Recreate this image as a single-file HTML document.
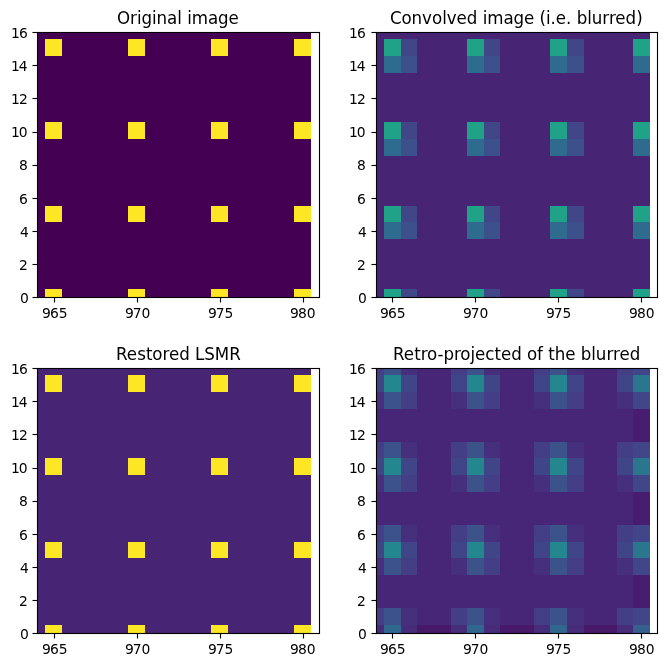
<!DOCTYPE html>
<html><head><meta charset="utf-8"><title>figure</title>
<style>
html,body{margin:0;padding:0;background:#fff}
body{width:667px;height:667px;overflow:hidden}
svg{display:block}
text{font-family:"DejaVu Sans","Liberation Sans",sans-serif;fill:#000}
.t{font-size:13.89px;letter-spacing:0px}
.h{font-size:16.67px}
</style></head><body>
<svg width="667" height="667" viewBox="0 0 667 667">
<rect width="667" height="667" fill="#fff"/>
<g shape-rendering="crispEdges">
<rect x="37" y="32" width="274" height="266" fill="#440154"/>
<rect x="45" y="289" width="17" height="8" fill="#fde725"/>
<rect x="45" y="206" width="17" height="16" fill="#fde725"/>
<rect x="45" y="122" width="17" height="17" fill="#fde725"/>
<rect x="45" y="39" width="17" height="17" fill="#fde725"/>
<rect x="128" y="289" width="17" height="8" fill="#fde725"/>
<rect x="128" y="206" width="17" height="16" fill="#fde725"/>
<rect x="128" y="122" width="17" height="17" fill="#fde725"/>
<rect x="128" y="39" width="17" height="17" fill="#fde725"/>
<rect x="211" y="289" width="17" height="8" fill="#fde725"/>
<rect x="211" y="206" width="17" height="16" fill="#fde725"/>
<rect x="211" y="122" width="17" height="17" fill="#fde725"/>
<rect x="211" y="39" width="17" height="17" fill="#fde725"/>
<rect x="294" y="289" width="17" height="8" fill="#fde725"/>
<rect x="294" y="206" width="17" height="16" fill="#fde725"/>
<rect x="294" y="122" width="17" height="17" fill="#fde725"/>
<rect x="294" y="39" width="17" height="17" fill="#fde725"/>
</g>
<g fill="#000">
<rect x="36.945" y="31.945" width="283.11" height="1.11"/><rect x="36.945" y="296.945" width="283.11" height="1.11"/><rect x="36.945" y="31.945" width="1.11" height="266.11"/><rect x="318.945" y="31.945" width="1.11" height="266.11"/>
<rect x="53.945" y="298" width="1.11" height="4.5"/><rect x="136.945" y="298" width="1.11" height="4.5"/><rect x="219.945" y="298" width="1.11" height="4.5"/><rect x="302.945" y="298" width="1.11" height="4.5"/>
<rect x="32.5" y="31.945" width="4.5" height="1.11"/><rect x="32.5" y="64.945" width="4.5" height="1.11"/><rect x="32.5" y="97.945" width="4.5" height="1.11"/><rect x="32.5" y="131.945" width="4.5" height="1.11"/><rect x="32.5" y="164.945" width="4.5" height="1.11"/><rect x="32.5" y="197.945" width="4.5" height="1.11"/><rect x="32.5" y="230.945" width="4.5" height="1.11"/><rect x="32.5" y="263.945" width="4.5" height="1.11"/><rect x="32.5" y="296.945" width="4.5" height="1.11"/>
</g>
<text class="t" x="42.050 50.100 58.650" y="317.85">965</text><text class="t" x="124.950 132.750 141.550" y="317.85">970</text><text class="t" x="207.900 215.700 224.500" y="317.85">975</text><text class="t" x="289.950 298.000 306.800" y="317.85">980</text>
<text class="t" x="10.900 18.950" y="37.85">16</text><text class="t" x="10.900 18.700" y="70.85">14</text><text class="t" x="10.900 18.950" y="103.85">12</text><text class="t" x="10.900 18.700" y="136.85">10</text><text class="t" x="18.950" y="169.85">8</text><text class="t" x="18.950" y="203.85">6</text><text class="t" x="19.950" y="236.85">4</text><text class="t" x="18.950" y="269.85">2</text><text class="t" x="19.950" y="302.85">0</text>
<text class="h" transform="translate(0,24.00) scale(1,1.07)" x="117.000 130.000 137.000 141.500 152.000 156.500 167.000 177.250 182.000 187.250 191.750 208.000 218.000 228.500">Original image</text>
<g shape-rendering="crispEdges">
<rect x="376" y="32" width="274" height="266" fill="#482475"/>
<rect x="384" y="289" width="17" height="8" fill="#1fa287"/>
<rect x="384" y="222" width="17" height="17" fill="#2f6b8e"/>
<rect x="384" y="206" width="17" height="16" fill="#1fa287"/>
<rect x="384" y="139" width="17" height="17" fill="#2f6b8e"/>
<rect x="384" y="122" width="17" height="17" fill="#1fa287"/>
<rect x="384" y="56" width="17" height="17" fill="#2f6b8e"/>
<rect x="384" y="39" width="17" height="17" fill="#1fa287"/>
<rect x="401" y="289" width="16" height="8" fill="#404688"/>
<rect x="401" y="222" width="16" height="17" fill="#3c508b"/>
<rect x="401" y="206" width="16" height="16" fill="#404688"/>
<rect x="401" y="139" width="16" height="17" fill="#3c508b"/>
<rect x="401" y="122" width="16" height="17" fill="#404688"/>
<rect x="401" y="56" width="16" height="17" fill="#3c508b"/>
<rect x="401" y="39" width="16" height="17" fill="#404688"/>
<rect x="467" y="289" width="17" height="8" fill="#1fa287"/>
<rect x="467" y="222" width="17" height="17" fill="#2f6b8e"/>
<rect x="467" y="206" width="17" height="16" fill="#1fa287"/>
<rect x="467" y="139" width="17" height="17" fill="#2f6b8e"/>
<rect x="467" y="122" width="17" height="17" fill="#1fa287"/>
<rect x="467" y="56" width="17" height="17" fill="#2f6b8e"/>
<rect x="467" y="39" width="17" height="17" fill="#1fa287"/>
<rect x="484" y="289" width="16" height="8" fill="#404688"/>
<rect x="484" y="222" width="16" height="17" fill="#3c508b"/>
<rect x="484" y="206" width="16" height="16" fill="#404688"/>
<rect x="484" y="139" width="16" height="17" fill="#3c508b"/>
<rect x="484" y="122" width="16" height="17" fill="#404688"/>
<rect x="484" y="56" width="16" height="17" fill="#3c508b"/>
<rect x="484" y="39" width="16" height="17" fill="#404688"/>
<rect x="550" y="289" width="17" height="8" fill="#1fa287"/>
<rect x="550" y="222" width="17" height="17" fill="#2f6b8e"/>
<rect x="550" y="206" width="17" height="16" fill="#1fa287"/>
<rect x="550" y="139" width="17" height="17" fill="#2f6b8e"/>
<rect x="550" y="122" width="17" height="17" fill="#1fa287"/>
<rect x="550" y="56" width="17" height="17" fill="#2f6b8e"/>
<rect x="550" y="39" width="17" height="17" fill="#1fa287"/>
<rect x="567" y="289" width="17" height="8" fill="#404688"/>
<rect x="567" y="222" width="17" height="17" fill="#3c508b"/>
<rect x="567" y="206" width="17" height="16" fill="#404688"/>
<rect x="567" y="139" width="17" height="17" fill="#3c508b"/>
<rect x="567" y="122" width="17" height="17" fill="#404688"/>
<rect x="567" y="56" width="17" height="17" fill="#3c508b"/>
<rect x="567" y="39" width="17" height="17" fill="#404688"/>
<rect x="633" y="289" width="17" height="8" fill="#1fa287"/>
<rect x="633" y="222" width="17" height="17" fill="#2f6b8e"/>
<rect x="633" y="206" width="17" height="16" fill="#1fa287"/>
<rect x="633" y="139" width="17" height="17" fill="#2f6b8e"/>
<rect x="633" y="122" width="17" height="17" fill="#1fa287"/>
<rect x="633" y="56" width="17" height="17" fill="#2f6b8e"/>
<rect x="633" y="39" width="17" height="17" fill="#1fa287"/>
</g>
<g fill="#000">
<rect x="375.945" y="31.945" width="282.11" height="1.11"/><rect x="375.945" y="296.945" width="282.11" height="1.11"/><rect x="375.945" y="31.945" width="1.11" height="266.11"/><rect x="656.945" y="31.945" width="1.11" height="266.11"/>
<rect x="391.945" y="298" width="1.11" height="4.5"/><rect x="474.945" y="298" width="1.11" height="4.5"/><rect x="557.945" y="298" width="1.11" height="4.5"/><rect x="640.945" y="298" width="1.11" height="4.5"/>
<rect x="371.5" y="31.945" width="4.5" height="1.11"/><rect x="371.5" y="64.945" width="4.5" height="1.11"/><rect x="371.5" y="97.945" width="4.5" height="1.11"/><rect x="371.5" y="131.945" width="4.5" height="1.11"/><rect x="371.5" y="164.945" width="4.5" height="1.11"/><rect x="371.5" y="197.945" width="4.5" height="1.11"/><rect x="371.5" y="230.945" width="4.5" height="1.11"/><rect x="371.5" y="263.945" width="4.5" height="1.11"/><rect x="371.5" y="296.945" width="4.5" height="1.11"/>
</g>
<text class="t" x="380.050 388.100 396.650" y="317.85">965</text><text class="t" x="462.950 470.750 479.550" y="317.85">970</text><text class="t" x="545.900 553.700 562.500" y="317.85">975</text><text class="t" x="628.950 637.000 645.800" y="317.85">980</text>
<text class="t" x="348.900 356.950" y="37.85">16</text><text class="t" x="348.900 356.700" y="70.85">14</text><text class="t" x="348.900 356.950" y="103.85">12</text><text class="t" x="348.900 356.700" y="136.85">10</text><text class="t" x="356.950" y="169.85">8</text><text class="t" x="356.950" y="203.85">6</text><text class="t" x="357.950" y="236.85">4</text><text class="t" x="356.950" y="269.85">2</text><text class="t" x="357.950" y="302.85">0</text>
<text class="h" transform="translate(0,24.00) scale(1,1.07)" x="390.000 401.500 411.500 422.000 432.000 442.250 446.750 456.500 466.750 477.250 482.750 487.250 503.500 513.500 524.000 534.250 539.500 546.000 550.500 555.750 566.000 571.500 576.750 587.250 591.750 602.250 609.000 615.250 625.500 636.250">Convolved image (i.e. blurred)</text>
<g shape-rendering="crispEdges">
<rect x="37" y="368" width="274" height="266" fill="#482475"/>
<rect x="45" y="625" width="17" height="8" fill="#fde725"/>
<rect x="45" y="542" width="17" height="16" fill="#fde725"/>
<rect x="45" y="458" width="17" height="17" fill="#fde725"/>
<rect x="45" y="375" width="17" height="17" fill="#fde725"/>
<rect x="128" y="625" width="17" height="8" fill="#fde725"/>
<rect x="128" y="542" width="17" height="16" fill="#fde725"/>
<rect x="128" y="458" width="17" height="17" fill="#fde725"/>
<rect x="128" y="375" width="17" height="17" fill="#fde725"/>
<rect x="211" y="625" width="17" height="8" fill="#fde725"/>
<rect x="211" y="542" width="17" height="16" fill="#fde725"/>
<rect x="211" y="458" width="17" height="17" fill="#fde725"/>
<rect x="211" y="375" width="17" height="17" fill="#fde725"/>
<rect x="294" y="625" width="17" height="8" fill="#fde725"/>
<rect x="294" y="542" width="17" height="16" fill="#fde725"/>
<rect x="294" y="458" width="17" height="17" fill="#fde725"/>
<rect x="294" y="375" width="17" height="17" fill="#fde725"/>
</g>
<g fill="#000">
<rect x="36.945" y="367.945" width="283.11" height="1.11"/><rect x="36.945" y="632.945" width="283.11" height="1.11"/><rect x="36.945" y="367.945" width="1.11" height="266.11"/><rect x="318.945" y="367.945" width="1.11" height="266.11"/>
<rect x="53.945" y="634" width="1.11" height="4.5"/><rect x="136.945" y="634" width="1.11" height="4.5"/><rect x="219.945" y="634" width="1.11" height="4.5"/><rect x="302.945" y="634" width="1.11" height="4.5"/>
<rect x="32.5" y="367.945" width="4.5" height="1.11"/><rect x="32.5" y="400.945" width="4.5" height="1.11"/><rect x="32.5" y="433.945" width="4.5" height="1.11"/><rect x="32.5" y="467.945" width="4.5" height="1.11"/><rect x="32.5" y="500.945" width="4.5" height="1.11"/><rect x="32.5" y="533.945" width="4.5" height="1.11"/><rect x="32.5" y="566.945" width="4.5" height="1.11"/><rect x="32.5" y="599.945" width="4.5" height="1.11"/><rect x="32.5" y="632.945" width="4.5" height="1.11"/>
</g>
<text class="t" x="42.050 50.100 58.650" y="653.85">965</text><text class="t" x="124.950 132.750 141.550" y="653.85">970</text><text class="t" x="207.900 215.700 224.500" y="653.85">975</text><text class="t" x="289.950 298.000 306.800" y="653.85">980</text>
<text class="t" x="10.900 18.950" y="373.85">16</text><text class="t" x="10.900 18.700" y="406.85">14</text><text class="t" x="10.900 18.950" y="439.85">12</text><text class="t" x="10.900 18.700" y="472.85">10</text><text class="t" x="18.950" y="505.85">8</text><text class="t" x="18.950" y="539.85">6</text><text class="t" x="19.950" y="572.85">4</text><text class="t" x="18.950" y="605.85">2</text><text class="t" x="19.950" y="638.85">0</text>
<text class="h" transform="translate(0,360.00) scale(1,1.07)" x="116.000 126.750 137.250 146.000 152.250 162.500 169.000 179.250 189.750 195.000 204.250 214.750 229.250">Restored LSMR</text>
<g shape-rendering="crispEdges">
<rect x="376" y="368" width="274" height="266" fill="#482677"/>
<rect x="377" y="625" width="7" height="8" fill="#472c7a"/>
<rect x="377" y="608" width="7" height="17" fill="#433e85"/>
<rect x="377" y="591" width="7" height="17" fill="#482677"/>
<rect x="377" y="575" width="7" height="16" fill="#482677"/>
<rect x="377" y="558" width="7" height="17" fill="#46307e"/>
<rect x="377" y="542" width="7" height="16" fill="#404588"/>
<rect x="377" y="525" width="7" height="17" fill="#433e85"/>
<rect x="377" y="508" width="7" height="17" fill="#482677"/>
<rect x="377" y="492" width="7" height="16" fill="#482677"/>
<rect x="377" y="475" width="7" height="17" fill="#46307e"/>
<rect x="377" y="458" width="7" height="17" fill="#404588"/>
<rect x="377" y="442" width="7" height="16" fill="#433e85"/>
<rect x="377" y="425" width="7" height="17" fill="#482677"/>
<rect x="377" y="409" width="7" height="16" fill="#482677"/>
<rect x="377" y="392" width="7" height="17" fill="#46307e"/>
<rect x="377" y="375" width="7" height="17" fill="#404588"/>
<rect x="377" y="369" width="7" height="6" fill="#433e85"/>
<rect x="384" y="625" width="17" height="8" fill="#31668e"/>
<rect x="384" y="608" width="17" height="17" fill="#3b528b"/>
<rect x="384" y="591" width="17" height="17" fill="#482677"/>
<rect x="384" y="575" width="17" height="16" fill="#482677"/>
<rect x="384" y="558" width="17" height="17" fill="#3b528b"/>
<rect x="384" y="542" width="17" height="16" fill="#24868e"/>
<rect x="384" y="525" width="17" height="17" fill="#3b528b"/>
<rect x="384" y="508" width="17" height="17" fill="#482677"/>
<rect x="384" y="492" width="17" height="16" fill="#482677"/>
<rect x="384" y="475" width="17" height="17" fill="#3b528b"/>
<rect x="384" y="458" width="17" height="17" fill="#24868e"/>
<rect x="384" y="442" width="17" height="16" fill="#3b528b"/>
<rect x="384" y="425" width="17" height="17" fill="#482677"/>
<rect x="384" y="409" width="17" height="16" fill="#482677"/>
<rect x="384" y="392" width="17" height="17" fill="#3b528b"/>
<rect x="384" y="375" width="17" height="17" fill="#24868e"/>
<rect x="384" y="369" width="17" height="6" fill="#3b528b"/>
<rect x="401" y="625" width="16" height="8" fill="#472c7a"/>
<rect x="401" y="608" width="16" height="17" fill="#46307e"/>
<rect x="401" y="591" width="16" height="17" fill="#482677"/>
<rect x="401" y="575" width="16" height="16" fill="#482677"/>
<rect x="401" y="558" width="16" height="17" fill="#433e85"/>
<rect x="401" y="542" width="16" height="16" fill="#404588"/>
<rect x="401" y="525" width="16" height="17" fill="#46307e"/>
<rect x="401" y="508" width="16" height="17" fill="#482677"/>
<rect x="401" y="492" width="16" height="16" fill="#482677"/>
<rect x="401" y="475" width="16" height="17" fill="#433e85"/>
<rect x="401" y="458" width="16" height="17" fill="#404588"/>
<rect x="401" y="442" width="16" height="16" fill="#46307e"/>
<rect x="401" y="425" width="16" height="17" fill="#482677"/>
<rect x="401" y="409" width="16" height="16" fill="#482677"/>
<rect x="401" y="392" width="16" height="17" fill="#433e85"/>
<rect x="401" y="375" width="16" height="17" fill="#404588"/>
<rect x="401" y="369" width="16" height="6" fill="#46307e"/>
<rect x="417" y="625" width="17" height="8" fill="#48186a"/>
<rect x="417" y="608" width="17" height="17" fill="#482677"/>
<rect x="417" y="591" width="17" height="17" fill="#482677"/>
<rect x="417" y="575" width="17" height="16" fill="#482677"/>
<rect x="417" y="558" width="17" height="17" fill="#482677"/>
<rect x="417" y="542" width="17" height="16" fill="#482677"/>
<rect x="417" y="525" width="17" height="17" fill="#482677"/>
<rect x="417" y="508" width="17" height="17" fill="#482677"/>
<rect x="417" y="492" width="17" height="16" fill="#482677"/>
<rect x="417" y="475" width="17" height="17" fill="#482677"/>
<rect x="417" y="458" width="17" height="17" fill="#482677"/>
<rect x="417" y="442" width="17" height="16" fill="#482677"/>
<rect x="417" y="425" width="17" height="17" fill="#482677"/>
<rect x="417" y="409" width="17" height="16" fill="#482677"/>
<rect x="417" y="392" width="17" height="17" fill="#482677"/>
<rect x="417" y="375" width="17" height="17" fill="#482677"/>
<rect x="417" y="369" width="17" height="6" fill="#482677"/>
<rect x="434" y="625" width="17" height="8" fill="#48186a"/>
<rect x="434" y="608" width="17" height="17" fill="#482677"/>
<rect x="434" y="591" width="17" height="17" fill="#482677"/>
<rect x="434" y="575" width="17" height="16" fill="#482677"/>
<rect x="434" y="558" width="17" height="17" fill="#482677"/>
<rect x="434" y="542" width="17" height="16" fill="#482677"/>
<rect x="434" y="525" width="17" height="17" fill="#482677"/>
<rect x="434" y="508" width="17" height="17" fill="#482677"/>
<rect x="434" y="492" width="17" height="16" fill="#482677"/>
<rect x="434" y="475" width="17" height="17" fill="#482677"/>
<rect x="434" y="458" width="17" height="17" fill="#482677"/>
<rect x="434" y="442" width="17" height="16" fill="#482677"/>
<rect x="434" y="425" width="17" height="17" fill="#482677"/>
<rect x="434" y="409" width="17" height="16" fill="#482677"/>
<rect x="434" y="392" width="17" height="17" fill="#482677"/>
<rect x="434" y="375" width="17" height="17" fill="#482677"/>
<rect x="434" y="369" width="17" height="6" fill="#482677"/>
<rect x="451" y="625" width="16" height="8" fill="#472c7a"/>
<rect x="451" y="608" width="16" height="17" fill="#433e85"/>
<rect x="451" y="591" width="16" height="17" fill="#482677"/>
<rect x="451" y="575" width="16" height="16" fill="#482677"/>
<rect x="451" y="558" width="16" height="17" fill="#46307e"/>
<rect x="451" y="542" width="16" height="16" fill="#404588"/>
<rect x="451" y="525" width="16" height="17" fill="#433e85"/>
<rect x="451" y="508" width="16" height="17" fill="#482677"/>
<rect x="451" y="492" width="16" height="16" fill="#482677"/>
<rect x="451" y="475" width="16" height="17" fill="#46307e"/>
<rect x="451" y="458" width="16" height="17" fill="#404588"/>
<rect x="451" y="442" width="16" height="16" fill="#433e85"/>
<rect x="451" y="425" width="16" height="17" fill="#482677"/>
<rect x="451" y="409" width="16" height="16" fill="#482677"/>
<rect x="451" y="392" width="16" height="17" fill="#46307e"/>
<rect x="451" y="375" width="16" height="17" fill="#404588"/>
<rect x="451" y="369" width="16" height="6" fill="#433e85"/>
<rect x="467" y="625" width="17" height="8" fill="#31668e"/>
<rect x="467" y="608" width="17" height="17" fill="#3b528b"/>
<rect x="467" y="591" width="17" height="17" fill="#482677"/>
<rect x="467" y="575" width="17" height="16" fill="#482677"/>
<rect x="467" y="558" width="17" height="17" fill="#3b528b"/>
<rect x="467" y="542" width="17" height="16" fill="#24868e"/>
<rect x="467" y="525" width="17" height="17" fill="#3b528b"/>
<rect x="467" y="508" width="17" height="17" fill="#482677"/>
<rect x="467" y="492" width="17" height="16" fill="#482677"/>
<rect x="467" y="475" width="17" height="17" fill="#3b528b"/>
<rect x="467" y="458" width="17" height="17" fill="#24868e"/>
<rect x="467" y="442" width="17" height="16" fill="#3b528b"/>
<rect x="467" y="425" width="17" height="17" fill="#482677"/>
<rect x="467" y="409" width="17" height="16" fill="#482677"/>
<rect x="467" y="392" width="17" height="17" fill="#3b528b"/>
<rect x="467" y="375" width="17" height="17" fill="#24868e"/>
<rect x="467" y="369" width="17" height="6" fill="#3b528b"/>
<rect x="484" y="625" width="16" height="8" fill="#472c7a"/>
<rect x="484" y="608" width="16" height="17" fill="#46307e"/>
<rect x="484" y="591" width="16" height="17" fill="#482677"/>
<rect x="484" y="575" width="16" height="16" fill="#482677"/>
<rect x="484" y="558" width="16" height="17" fill="#433e85"/>
<rect x="484" y="542" width="16" height="16" fill="#404588"/>
<rect x="484" y="525" width="16" height="17" fill="#46307e"/>
<rect x="484" y="508" width="16" height="17" fill="#482677"/>
<rect x="484" y="492" width="16" height="16" fill="#482677"/>
<rect x="484" y="475" width="16" height="17" fill="#433e85"/>
<rect x="484" y="458" width="16" height="17" fill="#404588"/>
<rect x="484" y="442" width="16" height="16" fill="#46307e"/>
<rect x="484" y="425" width="16" height="17" fill="#482677"/>
<rect x="484" y="409" width="16" height="16" fill="#482677"/>
<rect x="484" y="392" width="16" height="17" fill="#433e85"/>
<rect x="484" y="375" width="16" height="17" fill="#404588"/>
<rect x="484" y="369" width="16" height="6" fill="#46307e"/>
<rect x="500" y="625" width="17" height="8" fill="#48186a"/>
<rect x="500" y="608" width="17" height="17" fill="#482677"/>
<rect x="500" y="591" width="17" height="17" fill="#482677"/>
<rect x="500" y="575" width="17" height="16" fill="#482677"/>
<rect x="500" y="558" width="17" height="17" fill="#482677"/>
<rect x="500" y="542" width="17" height="16" fill="#482677"/>
<rect x="500" y="525" width="17" height="17" fill="#482677"/>
<rect x="500" y="508" width="17" height="17" fill="#482677"/>
<rect x="500" y="492" width="17" height="16" fill="#482677"/>
<rect x="500" y="475" width="17" height="17" fill="#482677"/>
<rect x="500" y="458" width="17" height="17" fill="#482677"/>
<rect x="500" y="442" width="17" height="16" fill="#482677"/>
<rect x="500" y="425" width="17" height="17" fill="#482677"/>
<rect x="500" y="409" width="17" height="16" fill="#482677"/>
<rect x="500" y="392" width="17" height="17" fill="#482677"/>
<rect x="500" y="375" width="17" height="17" fill="#482677"/>
<rect x="500" y="369" width="17" height="6" fill="#482677"/>
<rect x="517" y="625" width="17" height="8" fill="#48186a"/>
<rect x="517" y="608" width="17" height="17" fill="#482677"/>
<rect x="517" y="591" width="17" height="17" fill="#482677"/>
<rect x="517" y="575" width="17" height="16" fill="#482677"/>
<rect x="517" y="558" width="17" height="17" fill="#482677"/>
<rect x="517" y="542" width="17" height="16" fill="#482677"/>
<rect x="517" y="525" width="17" height="17" fill="#482677"/>
<rect x="517" y="508" width="17" height="17" fill="#482677"/>
<rect x="517" y="492" width="17" height="16" fill="#482677"/>
<rect x="517" y="475" width="17" height="17" fill="#482677"/>
<rect x="517" y="458" width="17" height="17" fill="#482677"/>
<rect x="517" y="442" width="17" height="16" fill="#482677"/>
<rect x="517" y="425" width="17" height="17" fill="#482677"/>
<rect x="517" y="409" width="17" height="16" fill="#482677"/>
<rect x="517" y="392" width="17" height="17" fill="#482677"/>
<rect x="517" y="375" width="17" height="17" fill="#482677"/>
<rect x="517" y="369" width="17" height="6" fill="#482677"/>
<rect x="534" y="625" width="16" height="8" fill="#472c7a"/>
<rect x="534" y="608" width="16" height="17" fill="#433e85"/>
<rect x="534" y="591" width="16" height="17" fill="#482677"/>
<rect x="534" y="575" width="16" height="16" fill="#482677"/>
<rect x="534" y="558" width="16" height="17" fill="#46307e"/>
<rect x="534" y="542" width="16" height="16" fill="#404588"/>
<rect x="534" y="525" width="16" height="17" fill="#433e85"/>
<rect x="534" y="508" width="16" height="17" fill="#482677"/>
<rect x="534" y="492" width="16" height="16" fill="#482677"/>
<rect x="534" y="475" width="16" height="17" fill="#46307e"/>
<rect x="534" y="458" width="16" height="17" fill="#404588"/>
<rect x="534" y="442" width="16" height="16" fill="#433e85"/>
<rect x="534" y="425" width="16" height="17" fill="#482677"/>
<rect x="534" y="409" width="16" height="16" fill="#482677"/>
<rect x="534" y="392" width="16" height="17" fill="#46307e"/>
<rect x="534" y="375" width="16" height="17" fill="#404588"/>
<rect x="534" y="369" width="16" height="6" fill="#433e85"/>
<rect x="550" y="625" width="17" height="8" fill="#31668e"/>
<rect x="550" y="608" width="17" height="17" fill="#3b528b"/>
<rect x="550" y="591" width="17" height="17" fill="#482677"/>
<rect x="550" y="575" width="17" height="16" fill="#482677"/>
<rect x="550" y="558" width="17" height="17" fill="#3b528b"/>
<rect x="550" y="542" width="17" height="16" fill="#24868e"/>
<rect x="550" y="525" width="17" height="17" fill="#3b528b"/>
<rect x="550" y="508" width="17" height="17" fill="#482677"/>
<rect x="550" y="492" width="17" height="16" fill="#482677"/>
<rect x="550" y="475" width="17" height="17" fill="#3b528b"/>
<rect x="550" y="458" width="17" height="17" fill="#24868e"/>
<rect x="550" y="442" width="17" height="16" fill="#3b528b"/>
<rect x="550" y="425" width="17" height="17" fill="#482677"/>
<rect x="550" y="409" width="17" height="16" fill="#482677"/>
<rect x="550" y="392" width="17" height="17" fill="#3b528b"/>
<rect x="550" y="375" width="17" height="17" fill="#24868e"/>
<rect x="550" y="369" width="17" height="6" fill="#3b528b"/>
<rect x="567" y="625" width="17" height="8" fill="#472c7a"/>
<rect x="567" y="608" width="17" height="17" fill="#46307e"/>
<rect x="567" y="591" width="17" height="17" fill="#482677"/>
<rect x="567" y="575" width="17" height="16" fill="#482677"/>
<rect x="567" y="558" width="17" height="17" fill="#433e85"/>
<rect x="567" y="542" width="17" height="16" fill="#404588"/>
<rect x="567" y="525" width="17" height="17" fill="#46307e"/>
<rect x="567" y="508" width="17" height="17" fill="#482677"/>
<rect x="567" y="492" width="17" height="16" fill="#482677"/>
<rect x="567" y="475" width="17" height="17" fill="#433e85"/>
<rect x="567" y="458" width="17" height="17" fill="#404588"/>
<rect x="567" y="442" width="17" height="16" fill="#46307e"/>
<rect x="567" y="425" width="17" height="17" fill="#482677"/>
<rect x="567" y="409" width="17" height="16" fill="#482677"/>
<rect x="567" y="392" width="17" height="17" fill="#433e85"/>
<rect x="567" y="375" width="17" height="17" fill="#404588"/>
<rect x="567" y="369" width="17" height="6" fill="#46307e"/>
<rect x="584" y="625" width="16" height="8" fill="#48186a"/>
<rect x="584" y="608" width="16" height="17" fill="#482677"/>
<rect x="584" y="591" width="16" height="17" fill="#482677"/>
<rect x="584" y="575" width="16" height="16" fill="#482677"/>
<rect x="584" y="558" width="16" height="17" fill="#482677"/>
<rect x="584" y="542" width="16" height="16" fill="#482677"/>
<rect x="584" y="525" width="16" height="17" fill="#482677"/>
<rect x="584" y="508" width="16" height="17" fill="#482677"/>
<rect x="584" y="492" width="16" height="16" fill="#482677"/>
<rect x="584" y="475" width="16" height="17" fill="#482677"/>
<rect x="584" y="458" width="16" height="17" fill="#482677"/>
<rect x="584" y="442" width="16" height="16" fill="#482677"/>
<rect x="584" y="425" width="16" height="17" fill="#482677"/>
<rect x="584" y="409" width="16" height="16" fill="#482677"/>
<rect x="584" y="392" width="16" height="17" fill="#482677"/>
<rect x="584" y="375" width="16" height="17" fill="#482677"/>
<rect x="584" y="369" width="16" height="6" fill="#482677"/>
<rect x="600" y="625" width="17" height="8" fill="#48186a"/>
<rect x="600" y="608" width="17" height="17" fill="#482677"/>
<rect x="600" y="591" width="17" height="17" fill="#482677"/>
<rect x="600" y="575" width="17" height="16" fill="#482677"/>
<rect x="600" y="558" width="17" height="17" fill="#482677"/>
<rect x="600" y="542" width="17" height="16" fill="#482677"/>
<rect x="600" y="525" width="17" height="17" fill="#482677"/>
<rect x="600" y="508" width="17" height="17" fill="#482677"/>
<rect x="600" y="492" width="17" height="16" fill="#482677"/>
<rect x="600" y="475" width="17" height="17" fill="#482677"/>
<rect x="600" y="458" width="17" height="17" fill="#482677"/>
<rect x="600" y="442" width="17" height="16" fill="#482677"/>
<rect x="600" y="425" width="17" height="17" fill="#482677"/>
<rect x="600" y="409" width="17" height="16" fill="#482677"/>
<rect x="600" y="392" width="17" height="17" fill="#482677"/>
<rect x="600" y="375" width="17" height="17" fill="#482677"/>
<rect x="600" y="369" width="17" height="6" fill="#482677"/>
<rect x="617" y="625" width="16" height="8" fill="#472c7a"/>
<rect x="617" y="608" width="16" height="17" fill="#433e85"/>
<rect x="617" y="591" width="16" height="17" fill="#482677"/>
<rect x="617" y="575" width="16" height="16" fill="#482677"/>
<rect x="617" y="558" width="16" height="17" fill="#46307e"/>
<rect x="617" y="542" width="16" height="16" fill="#404588"/>
<rect x="617" y="525" width="16" height="17" fill="#433e85"/>
<rect x="617" y="508" width="16" height="17" fill="#482677"/>
<rect x="617" y="492" width="16" height="16" fill="#482677"/>
<rect x="617" y="475" width="16" height="17" fill="#46307e"/>
<rect x="617" y="458" width="16" height="17" fill="#404588"/>
<rect x="617" y="442" width="16" height="16" fill="#433e85"/>
<rect x="617" y="425" width="16" height="17" fill="#482677"/>
<rect x="617" y="409" width="16" height="16" fill="#482677"/>
<rect x="617" y="392" width="16" height="17" fill="#46307e"/>
<rect x="617" y="375" width="16" height="17" fill="#404588"/>
<rect x="617" y="369" width="16" height="6" fill="#433e85"/>
<rect x="633" y="625" width="17" height="8" fill="#355f8d"/>
<rect x="633" y="608" width="17" height="17" fill="#404688"/>
<rect x="633" y="591" width="17" height="17" fill="#481d6f"/>
<rect x="633" y="575" width="17" height="16" fill="#481d6f"/>
<rect x="633" y="558" width="17" height="17" fill="#404688"/>
<rect x="633" y="542" width="17" height="16" fill="#2a768e"/>
<rect x="633" y="525" width="17" height="17" fill="#404688"/>
<rect x="633" y="508" width="17" height="17" fill="#481d6f"/>
<rect x="633" y="492" width="17" height="16" fill="#481d6f"/>
<rect x="633" y="475" width="17" height="17" fill="#404688"/>
<rect x="633" y="458" width="17" height="17" fill="#2a768e"/>
<rect x="633" y="442" width="17" height="16" fill="#404688"/>
<rect x="633" y="425" width="17" height="17" fill="#481d6f"/>
<rect x="633" y="409" width="17" height="16" fill="#481d6f"/>
<rect x="633" y="392" width="17" height="17" fill="#404688"/>
<rect x="633" y="375" width="17" height="17" fill="#2a768e"/>
<rect x="633" y="369" width="17" height="6" fill="#404688"/>
</g>
<g fill="#000">
<rect x="375.945" y="367.945" width="282.11" height="1.11"/><rect x="375.945" y="632.945" width="282.11" height="1.11"/><rect x="375.945" y="367.945" width="1.11" height="266.11"/><rect x="656.945" y="367.945" width="1.11" height="266.11"/>
<rect x="391.945" y="634" width="1.11" height="4.5"/><rect x="474.945" y="634" width="1.11" height="4.5"/><rect x="557.945" y="634" width="1.11" height="4.5"/><rect x="640.945" y="634" width="1.11" height="4.5"/>
<rect x="371.5" y="367.945" width="4.5" height="1.11"/><rect x="371.5" y="400.945" width="4.5" height="1.11"/><rect x="371.5" y="433.945" width="4.5" height="1.11"/><rect x="371.5" y="467.945" width="4.5" height="1.11"/><rect x="371.5" y="500.945" width="4.5" height="1.11"/><rect x="371.5" y="533.945" width="4.5" height="1.11"/><rect x="371.5" y="566.945" width="4.5" height="1.11"/><rect x="371.5" y="599.945" width="4.5" height="1.11"/><rect x="371.5" y="632.945" width="4.5" height="1.11"/>
</g>
<text class="t" x="380.050 388.100 396.650" y="653.85">965</text><text class="t" x="462.950 470.750 479.550" y="653.85">970</text><text class="t" x="545.900 553.700 562.500" y="653.85">975</text><text class="t" x="628.950 637.000 645.800" y="653.85">980</text>
<text class="t" x="348.900 356.950" y="373.85">16</text><text class="t" x="348.900 356.700" y="406.85">14</text><text class="t" x="348.900 356.950" y="439.85">12</text><text class="t" x="348.900 356.700" y="472.85">10</text><text class="t" x="356.950" y="505.85">8</text><text class="t" x="356.950" y="539.85">6</text><text class="t" x="357.950" y="572.85">4</text><text class="t" x="356.950" y="605.85">2</text><text class="t" x="357.950" y="638.85">0</text>
<text class="h" transform="translate(0,360.00) scale(1,1.07)" x="393.000 403.750 414.250 420.750 427.000 437.500 443.500 454.000 460.250 470.500 475.000 485.250 494.500 501.000 511.250 521.750 527.000 537.000 543.000 548.250 554.750 565.250 575.250 580.750 591.250 595.750 606.500 613.000 619.500 629.750">Retro-projected of the blurred</text>
</svg>
</body></html>
